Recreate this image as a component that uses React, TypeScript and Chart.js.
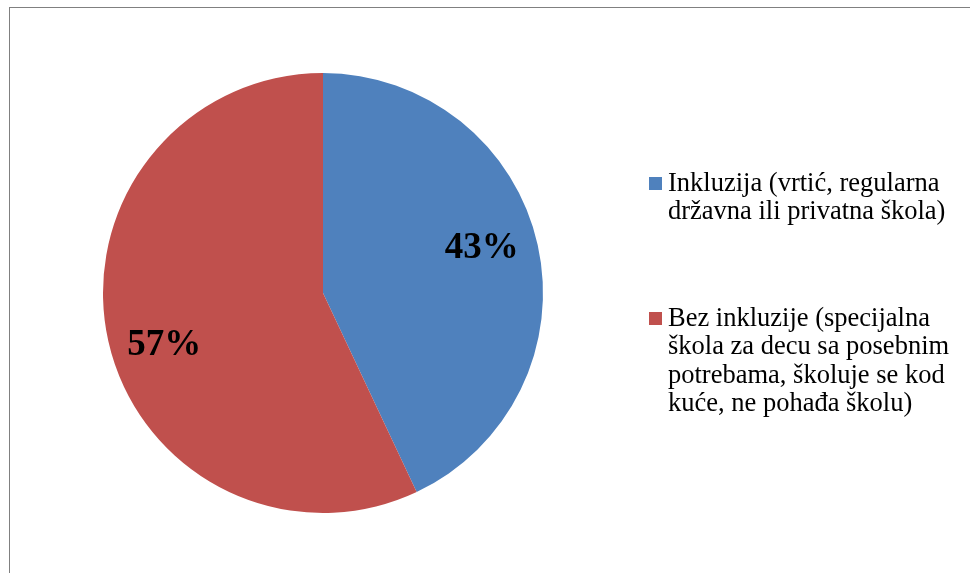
import React, { useEffect, useRef } from "react";
import { Chart, registerables } from "chart.js";

Chart.register(...registerables);

const categories = [
  "Inkluzija (vrtić, regularna državna ili privatna škola)",
  "Bez inkluzije (specijalna škola za decu sa posebnim potrebama, školuje se kod kuće, ne pohađa školu)",
];
const legendLines = [
  ["Inkluzija (vrtić, regularna", "državna ili privatna škola)"],
  ["Bez inkluzije (specijalna", "škola za decu sa posebnim", "potrebama, školuje se kod", "kuće, ne pohađa školu)"],
];
const values = [43, 57];
const colors = ["#4F81BD", "#C0504D"];

const labelPlugin = {
  id: "pctLabels",
  afterDatasetsDraw(chart: any) {
    const ctx = chart.ctx;
    const meta = chart.getDatasetMeta(0);
    const data = chart.data.datasets[0].data as number[];
    const total = data.reduce((a, b) => a + b, 0);
    ctx.save();
    ctx.font = "bold 37px 'Liberation Serif', 'Times New Roman', serif";
    ctx.fillStyle = "#000";
    ctx.textAlign = "center";
    ctx.textBaseline = "middle";
    meta.data.forEach((arc: any, i: number) => {
      const p = arc.getProps(["x", "y", "startAngle", "endAngle", "outerRadius"], true);
      const mid = (p.startAngle + p.endAngle) / 2 - (4.4 * Math.PI) / 180;
      const r = p.outerRadius * 0.755;
      const x = p.x + Math.cos(mid) * r;
      const y = p.y + Math.sin(mid) * r + 4;
      ctx.fillText(Math.round((data[i] / total) * 100) + "%", x, y);
    });
    ctx.restore();
  },
};

export default function App() {
  const ref = useRef<HTMLCanvasElement>(null);
  useEffect(() => {
    if (!ref.current) return;
    const chart = new Chart(ref.current, {
      type: "pie",
      data: {
        labels: categories,
        datasets: [
          {
            data: values,
            backgroundColor: colors,
            borderWidth: 0,
          },
        ],
      },
      options: {
        responsive: false,
        animation: false,
        radius: 220,
        layout: { padding: { left: 103, right: 427, top: 73, bottom: 60 } },
        plugins: {
          legend: { display: false },
          tooltip: { enabled: false },
        },
      } as any,
      plugins: [labelPlugin],
    });
    return () => chart.destroy();
  }, []);

  const groupTops = [167.8, 302.8];
  return (
    <div style={{ position: "fixed", left: 0, top: 0, width: 970, height: 573, background: "#fff", overflow: "hidden" }}>
      <canvas ref={ref} width={970} height={573} style={{ position: "absolute", left: 0, top: 0, width: 970, height: 573 }} />
      <div style={{ position: "absolute", left: 9, top: 7, width: 970, height: 600, borderTop: "1.5px solid #808080", borderLeft: "1.5px solid #808080", boxSizing: "border-box" }} />
      {legendLines.map((lines, i) => (
        <div key={i} style={{ position: "absolute", left: 649, top: groupTops[i] }}>
          <div style={{ position: "absolute", left: 0, top: 9, width: 13, height: 13, background: colors[i] }} />
          <div
            style={{
              position: "absolute",
              left: 19,
              top: 0,
              fontFamily: "'Liberation Serif', 'Times New Roman', serif",
              fontSize: 26.5,
              lineHeight: "28.5px",
              color: "#000",
              whiteSpace: "nowrap",
            }}
          >
            {lines.map((l, j) => (
              <div key={j}>{l}</div>
            ))}
          </div>
        </div>
      ))}
    </div>
  );
}
